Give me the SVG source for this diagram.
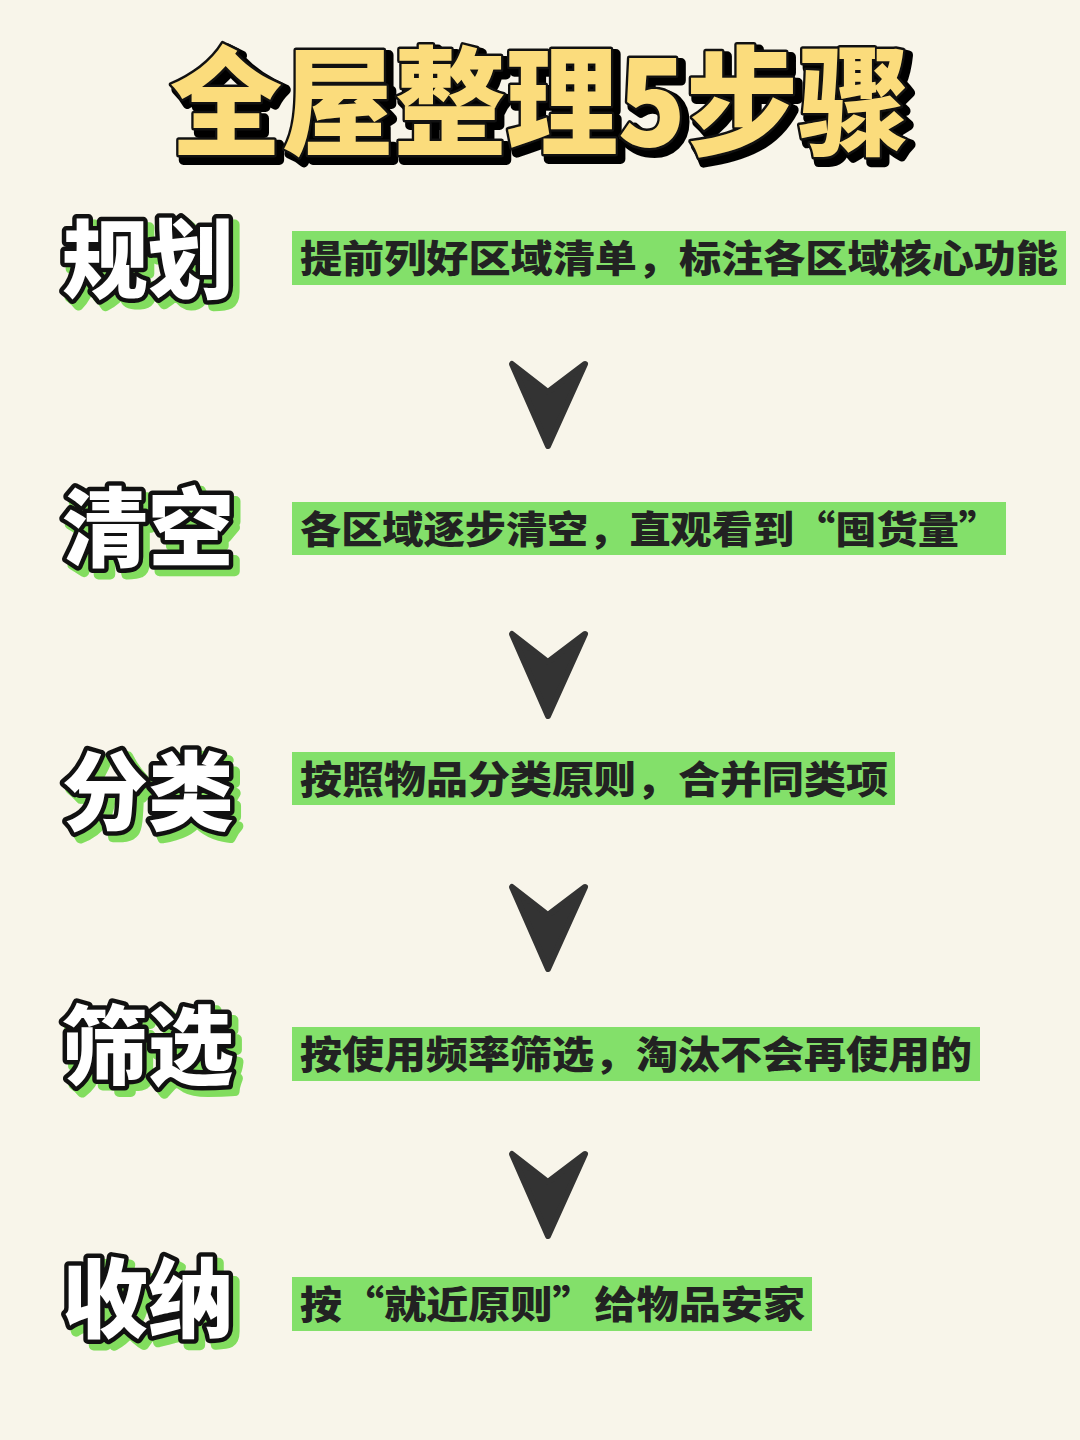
<svg xmlns="http://www.w3.org/2000/svg" width="1080" height="1440" viewBox="0 0 1080 1440">
<style>
.t{font-family:"Noto Sans CJK SC",sans-serif;font-weight:900;font-size:118px;text-anchor:middle}
.ts{fill:#000;stroke:#000;stroke-width:10;stroke-linejoin:round}
.tf{fill:#fbdc7c;stroke:#111;stroke-width:5;stroke-linejoin:round;paint-order:stroke}
.l{font-family:"Noto Sans CJK SC",sans-serif;font-weight:900;font-size:86px}
.ls{fill:#82dd5e;stroke:#82dd5e;stroke-width:10;stroke-linejoin:round}
.lf{fill:#fff;stroke:#111;stroke-width:9;stroke-linejoin:round;paint-order:stroke}
.box{fill:#83e06a}
.d{font-family:"Noto Sans CJK SC",sans-serif;font-weight:900;font-size:38px;fill:#222}
.ar{fill:#333;stroke:#333;stroke-width:6;stroke-linejoin:round}
</style>
<rect width="1080" height="1440" fill="#f8f5ea"/>
<g id="title">
<text class="t ts" x="545" y="151" textLength="740" lengthAdjust="spacingAndGlyphs">全屋整理5步骤</text>
<text class="t tf" x="540" y="146" textLength="740" lengthAdjust="spacingAndGlyphs">全屋整理5步骤</text>
</g>
<g id="step1">
<text class="l ls" x="68" y="298">规划</text>
<text class="l lf" x="62" y="292">规划</text>
<rect class="box" x="292" y="231" width="774" height="54"/>
<text class="d" x="300" y="272" textLength="758" lengthAdjust="spacingAndGlyphs">提前列好区域清单，标注各区域核心功能</text>
</g>
<g id="step2">
<text class="l ls" x="68" y="566">清空</text>
<text class="l lf" x="62" y="560">清空</text>
<rect class="box" x="292" y="502" width="714" height="53"/>
<text class="d" x="300" y="543" textLength="700" lengthAdjust="spacingAndGlyphs">各区域逐步清空，直观看到“囤货量”</text>
</g>
<g id="step3">
<text class="l ls" x="68" y="830">分类</text>
<text class="l lf" x="62" y="824">分类</text>
<rect class="box" x="292" y="752" width="603" height="53"/>
<text class="d" x="300" y="793" textLength="588" lengthAdjust="spacingAndGlyphs">按照物品分类原则，合并同类项</text>
</g>
<g id="step4">
<text class="l ls" x="68" y="1084">筛选</text>
<text class="l lf" x="62" y="1078">筛选</text>
<rect class="box" x="292" y="1027" width="688" height="54"/>
<text class="d" x="300" y="1068" textLength="672" lengthAdjust="spacingAndGlyphs">按使用频率筛选，淘汰不会再使用的</text>
</g>
<g id="step5">
<text class="l ls" x="68" y="1337">收纳</text>
<text class="l lf" x="62" y="1331">收纳</text>
<rect class="box" x="292" y="1277" width="520" height="54"/>
<text class="d" x="300" y="1318" textLength="505" lengthAdjust="spacingAndGlyphs">按“就近原则”给物品安家</text>
</g>
<g id="connectors">
<path class="ar" d="M512 364 L548 446 L585 364 L548 392 Z"/>
<path class="ar" d="M512 634 L548 716 L585 634 L548 662 Z"/>
<path class="ar" d="M512 887 L548 969 L585 887 L548 915 Z"/>
<path class="ar" d="M512 1154 L548 1236 L585 1154 L548 1182 Z"/>
</g>
</svg>
